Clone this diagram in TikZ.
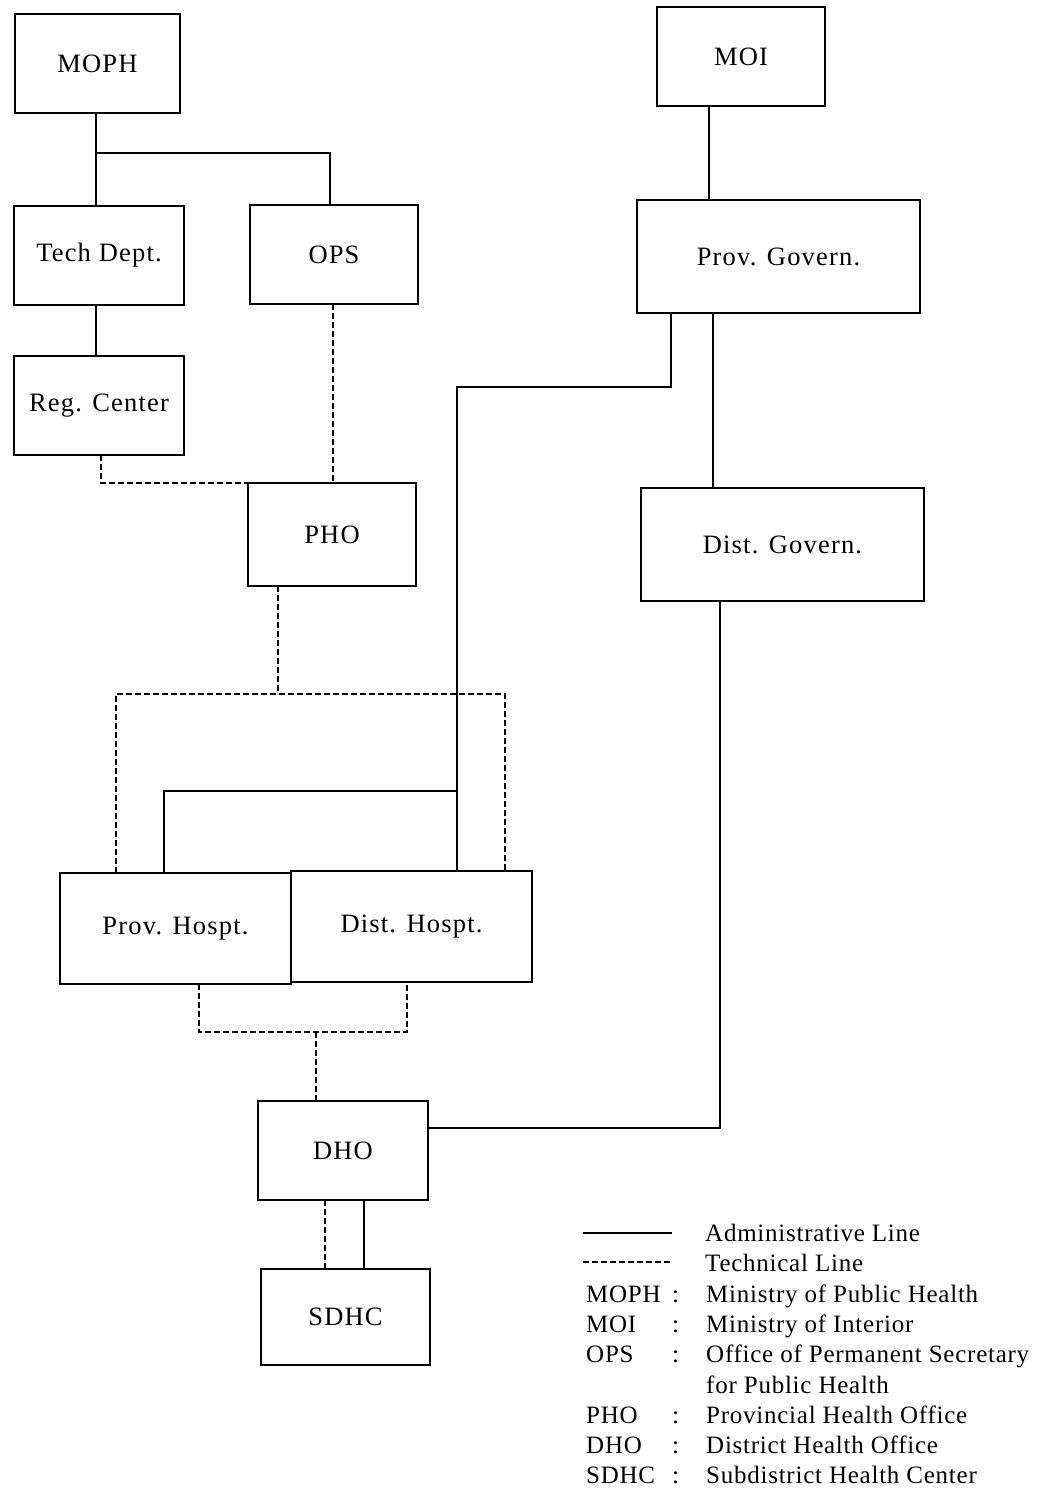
\documentclass[tikz,border=0pt]{standalone}
\usepackage{fontspec}
\setmainfont{Liberation Serif}
\newfontfamily\boxfont[LetterSpace=4.5]{Liberation Serif}
\newfontfamily\lgdfont[LetterSpace=3]{Liberation Serif}
\usetikzlibrary{calc}
\begin{document}
\begin{tikzpicture}[x=1pt,y=-1pt,
  box/.style={draw,line width=1.5pt,inner sep=0pt,outer sep=0pt,
    font=\boxfont\fontsize{26.5}{30}\selectfont},
  adm/.style={draw,line width=1.6pt},
  tech/.style={draw,line width=1.6pt,dash pattern=on 6pt off 3pt},
  lgd/.style={anchor=base west,inner sep=0pt,font=\lgdfont\fontsize{25}{30}\selectfont}]
\useasboundingbox (0,0) rectangle (1041,1492);

% organisation boxes
\node[box,minimum width=165pt,minimum height=99pt] (moph) at (97.5,63.5) {MOPH};
\node[box,minimum width=168pt,minimum height=99pt] (moi) at (741,56.5) {MOI};
\node[box,minimum width=170pt,minimum height=99pt] (tech) at (99,255.5) {Tech Dept.};
\node[box,minimum width=168pt,minimum height=99pt] (ops) at (334,254.5) {OPS};
\node[box,minimum width=170pt,minimum height=99pt] (reg) at (99,405.5) {Reg. Center};
\node[box,minimum width=168pt,minimum height=103pt] (pho) at (332,534.5) {PHO};
\node[box,minimum width=283pt,minimum height=113pt] (pgov) at (778.5,256.5) {Prov. Govern.};
\node[box,minimum width=283pt,minimum height=113pt] (dgov) at (782.5,544.5) {Dist. Govern.};
\node[box,minimum width=231pt,minimum height=111pt] (phosp) at (175.5,928.5) {Prov. Hospt.};
\node[box,minimum width=241pt,minimum height=111pt] (dhosp) at (411.5,926.5) {Dist. Hospt.};
\node[box,minimum width=170pt,minimum height=99pt] (dho) at (343,1150.5) {DHO};
\node[box,minimum width=169pt,minimum height=96pt] (sdhc) at (345.5,1317) {SDHC};

% routing points
\coordinate (j1) at (96,153);
\coordinate (j2) at (330,153);
\coordinate (xo) at (333,0);
\coordinate (xr) at (101,0);
\coordinate (xm) at (709,0);
\coordinate (xg) at (713,0);
\coordinate (k1) at (671,387);
\coordinate (k2) at (457,387);
\coordinate (k3) at (457,791);
\coordinate (k4) at (164,791);
\coordinate (t1) at (278,694);
\coordinate (t2) at (116,694);
\coordinate (t3) at (505,694);
\coordinate (b1) at (199,1032);
\coordinate (b2) at (407,1032);
\coordinate (b3) at (316,1032);
\coordinate (g) at (720,1128);
\coordinate (xd) at (325,0);
\coordinate (xs) at (364,0);

% administrative lines
\draw[adm] (moph.south -| j1) -- (tech.north -| j1);
\draw[adm] (j1) -- (j2) -- (ops.north -| j2);
\draw[adm] (tech.south -| j1) -- (reg.north -| j1);
\draw[adm] (moi.south -| xm) -- (pgov.north -| xm);
\draw[adm] (pgov.south -| xg) -- (dgov.north -| xg);
\draw[adm] (pgov.south -| k1) -- (k1) -- (k2) -- (dhosp.north -| k2);
\draw[adm] (k3) -- (k4) -- (phosp.north -| k4);
\draw[adm] (dgov.south -| g) -- (g) -- (dho.east |- g);
\draw[adm] (dho.south -| xs) -- (sdhc.north -| xs);

% technical lines
\draw[tech] (ops.south -| xo) -- (pho.north -| xo);
\draw[tech] (reg.south -| xr) -- (pho.north -| xr) -- (pho.north west);
\draw[tech] (pho.south -| t1) -- (t1);
\draw[tech] (phosp.north -| t2) -- (t2) -- (t3) -- (dhosp.north -| t3);
\draw[tech] (phosp.south -| b1) -- (b1) -- (b2) -- (dhosp.south -| b2);
\draw[tech] (b3) -- (dho.north -| b3);
\draw[tech] (dho.south -| xd) -- (sdhc.north -| xd);

% legend
\coordinate (la1) at (583,1233);
\coordinate (la2) at (672,1233);
\coordinate (lt1) at (583,1262);
\coordinate (lt2) at (672,1262);
\draw[line width=1.2pt] (la1) -- (la2);
\draw[line width=1.2pt,dash pattern=on 6pt off 3pt] (lt1) -- (lt2);
\node[lgd] (l1) at (705,1241) {Administrative Line};
\node[lgd] (l2) at (705,1271) {Technical Line};
\node[lgd] (a1) at (586,1302) {MOPH};
\node[lgd] (c1) at (672,1302) {:};
\node[lgd] (d1) at (706,1302) {Ministry of Public Health};
\node[lgd] (a2) at (586,1332) {MOI};
\node[lgd] (c2) at (672,1332) {:};
\node[lgd] (d2) at (706,1332) {Ministry of Interior};
\node[lgd] (a3) at (586,1362) {OPS};
\node[lgd] (c3) at (672,1362) {:};
\node[lgd] (d3) at (706,1362) {Office of Permanent Secretary};
\node[lgd] (d3b) at (706,1393) {for Public Health};
\node[lgd] (a4) at (586,1423) {PHO};
\node[lgd] (c4) at (672,1423) {:};
\node[lgd] (d4) at (706,1423) {Provincial Health Office};
\node[lgd] (a5) at (586,1453) {DHO};
\node[lgd] (c5) at (672,1453) {:};
\node[lgd] (d5) at (706,1453) {District Health Office};
\node[lgd] (a6) at (586,1483) {SDHC};
\node[lgd] (c6) at (672,1483) {:};
\node[lgd] (d6) at (706,1483) {Subdistrict Health Center};
\end{tikzpicture}
\end{document}
